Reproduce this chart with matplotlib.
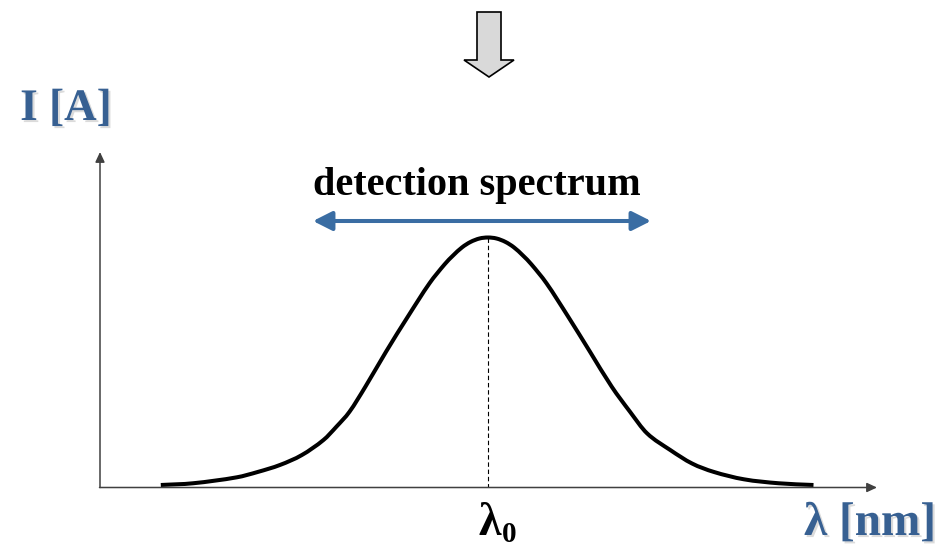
import matplotlib
matplotlib.use("Agg")
import numpy as np
import matplotlib.pyplot as plt
from matplotlib import patheffects as pe
from matplotlib.patches import FancyArrow, PathPatch
from matplotlib.path import Path

# Detection spectrum: wavelength offset from lambda_0 (arbitrary units)
# and normalised detector current
wavelength = [-3.272, -2.950, -2.513, -2.300, -2.080, -1.862, -1.645, -1.515,
              -1.385, -1.225, -1.019, -0.802, -0.585, -0.433, -0.350, -0.260,
              -0.175, -0.085, 0.000, 0.085, 0.175, 0.260, 0.350, 0.433,
              0.585, 0.802, 1.019, 1.236, 1.420, 1.590, 1.824, 2.040,
              2.257, 2.560, 2.908, 3.255]
intensity = [0.000, 0.007, 0.031, 0.053, 0.081, 0.121, 0.182, 0.236,
             0.296, 0.398, 0.539, 0.680, 0.815, 0.892, 0.927, 0.960,
             0.982, 0.996, 1.000, 0.996, 0.982, 0.960, 0.927, 0.892,
             0.815, 0.680, 0.539, 0.398, 0.296, 0.209, 0.141, 0.087,
             0.053, 0.023, 0.007, 0.000]
peak_wavelength = 0.0
peak_intensity = 1.0

# Text
y_label = "I [A]"
x_label = "λ [nm]"
band_label = "detection spectrum"
peak_label = "λ"
peak_sub = "0"

BLUE_TEXT = "#376092"
BLUE_ARROW = "#3A6DA3"
AXIS_GRAY = "#404040"
SERIF = ["Liberation Serif", "DejaVu Serif"]


def smooth_path(xs, ys):
    """Cubic Hermite (Bezier) path through every sample, parameterised by x."""
    x = np.asarray(xs, float)
    y = np.asarray(ys, float)
    m = np.empty_like(y)
    m[1:-1] = (y[2:] - y[:-2]) / (x[2:] - x[:-2])
    m[0] = (y[1] - y[0]) / (x[1] - x[0])
    m[-1] = (y[-1] - y[-2]) / (x[-1] - x[-2])
    verts = [(x[0], y[0])]
    codes = [Path.MOVETO]
    for i in range(len(x) - 1):
        h = x[i + 1] - x[i]
        verts += [(x[i] + h / 3, y[i] + m[i] * h / 3),
                  (x[i + 1] - h / 3, y[i + 1] - m[i + 1] * h / 3),
                  (x[i + 1], y[i + 1])]
        codes += [Path.CURVE4] * 3
    return Path(verts, codes)


fig = plt.figure(figsize=(9.38, 5.5), dpi=100)

# Main data axes spanning the figure
ax = fig.add_axes([0, 0, 1, 1])
ax.set_xlim(-4.88, 4.50)
ax.set_ylim(-0.2626, 1.9596)
ax.axis("off")

ax.add_patch(PathPatch(smooth_path(wavelength, intensity), facecolor="none",
                       edgecolor="black", lw=2.9, capstyle="butt",
                       joinstyle="round", zorder=3))
ax.plot([peak_wavelength, peak_wavelength], [peak_intensity, -0.008],
        color="black", lw=0.8, ls=(0, (4, 2.5)), zorder=2)

# Overlay in pixel units for the decorations
ov = fig.add_axes([0, 0, 1, 1])
ov.set_xlim(0, 938)
ov.set_ylim(550, 0)
ov.axis("off")
ov.patch.set_alpha(0)

# Coordinate axes with arrowheads
axis_style = dict(arrowstyle="-|>,head_length=0.6,head_width=0.28",
                  color=AXIS_GRAY, lw=1.1, shrinkA=0, shrinkB=0,
                  mutation_scale=10)
ov.annotate("", xy=(100, 152), xytext=(100, 487.5), arrowprops=axis_style)
ov.annotate("", xy=(877, 487.5), xytext=(99.5, 487.5), arrowprops=axis_style)

# Double-headed arrow marking the detection band
ov.annotate("", xy=(651, 221), xytext=(313, 221),
            arrowprops=dict(arrowstyle="<|-|>,head_length=1.15,head_width=0.58",
                            color=BLUE_ARROW, lw=2.9, shrinkA=0, shrinkB=0,
                            mutation_scale=10))

# Block arrow at the top
ov.add_patch(FancyArrow(489, 12, 0, 65, width=24, head_width=50,
                        head_length=17, length_includes_head=True,
                        facecolor="#d9d9d9", edgecolor="black", lw=1.2))

shadow = [pe.withSimplePatchShadow(offset=(1.5, -1.5), shadow_rgbFace="#888888",
                                   alpha=0.3)]

ov.text(66, 120, y_label, color=BLUE_TEXT, fontsize=32.5, fontweight="bold",
        family=SERIF, ha="center", va="baseline", path_effects=shadow)
ov.text(870, 535, x_label, color=BLUE_TEXT, fontsize=34, fontweight="bold",
        family=SERIF, ha="center", va="baseline", path_effects=shadow)

ov.text(477, 195, band_label, color="black", fontsize=29, fontweight="bold",
        family=SERIF, ha="center", va="baseline")

ov.text(490, 535, peak_label, color="black", fontsize=33, fontweight="bold",
        family=SERIF, ha="center", va="baseline")
ov.text(509, 542, peak_sub, color="black", fontsize=21, fontweight="bold",
        family=SERIF, ha="center", va="baseline")

fig.savefig("out.png", dpi=100)
